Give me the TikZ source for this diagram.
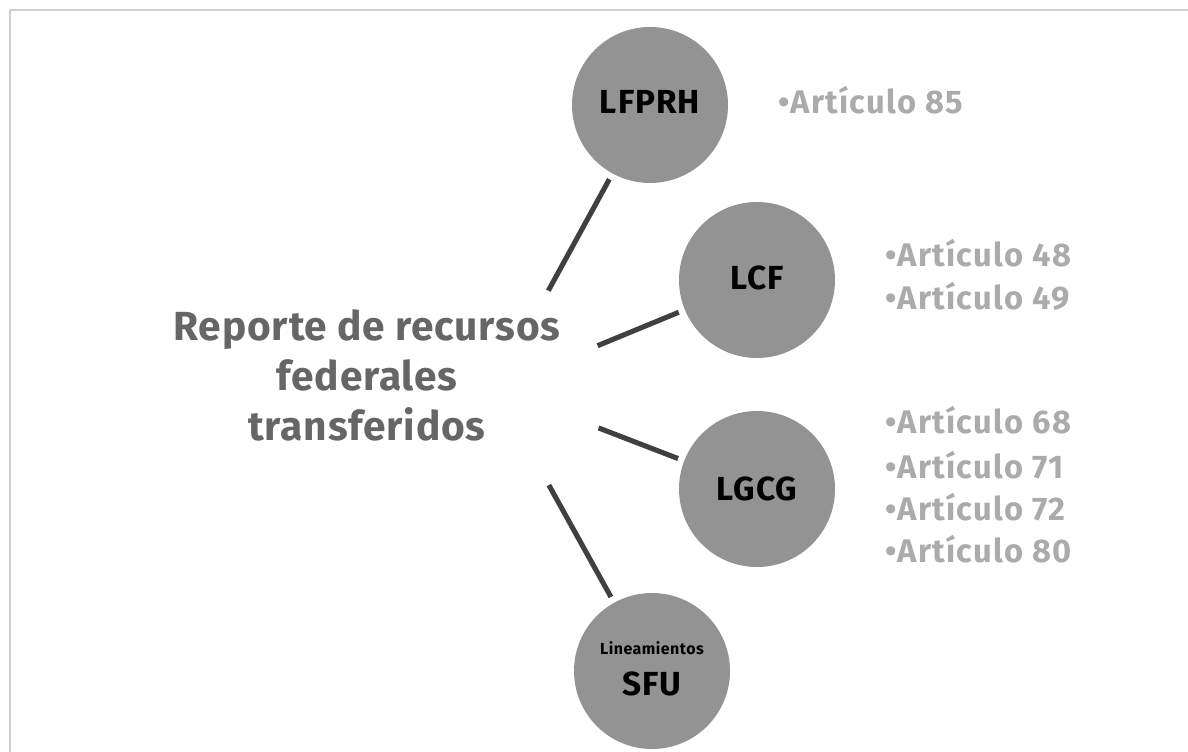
\documentclass[tikz,border=0pt]{standalone}
\usepackage{fontspec}
\setmainfont{Fira Sans}
\newfontfamily\artfont[LetterSpace=4]{Fira Sans}
\newfontfamily\titlefont[LetterSpace=2]{Fira Sans}
\newfontfamily\lawfont[LetterSpace=3]{Fira Sans}
\definecolor{bubblegray}{HTML}{939393}
\definecolor{spokegray}{HTML}{404040}
\definecolor{titlegray}{HTML}{666666}
\definecolor{artgray}{HTML}{ABABAB}
\definecolor{framegray}{HTML}{D0D0D0}
\begin{document}
\begin{tikzpicture}[x=0.75pt,y=-0.75pt,
  bubble/.style={circle, fill=bubblegray, draw=none, minimum size=117pt, inner sep=0pt, outer sep=0pt},
  hubstyle/.style={circle, draw=none, minimum size=166.5pt, inner sep=0pt, outer sep=0pt},
  lawlabel/.style={anchor=base, inner sep=0pt, text=black, font=\lawfont\bfseries\fontsize{25}{30}\selectfont},
  smalllabel/.style={anchor=base, inner sep=0pt, text=black, font=\lawfont\bfseries\fontsize{12}{14}\selectfont},
  titleline/.style={anchor=base, inner sep=0pt, text=titlegray, font=\titlefont\bfseries\fontsize{30.5}{37}\selectfont},
  article/.style={anchor=base west, inner sep=0pt, text=artgray, font=\artfont\bfseries\fontsize{24.5}{30}\selectfont},
  spoke/.style={draw=spokegray, line width=3.8pt, shorten >=5pt}
]
\useasboundingbox (0,0) rectangle (1188,752);
\fill[white] (0,0) rectangle (1188,752);
% frame (cropped)
\draw[framegray, line width=1.6pt] (10,760) -- (10,10) -- (1200,10);

% hub
\node[hubstyle] (hub) at (495,388) {};

% bubbles
\node[bubble] (lfprh) at (650,105) {};
\node[bubble] (lcf) at (757,280) {};
\node[bubble] (lgcg) at (757,489) {};
\node[bubble] (sfu) at (652,671) {};

\node[lawlabel] (lfprhT) at (650,114) {LFPRH};
\node[lawlabel] (lcfT) at (757,290) {LCF};
\node[lawlabel] (lgcgT) at (757,500) {LGCG};
\node[smalllabel] (sfuS) at (652,654) {Lineamientos};
\node[lawlabel] (sfuT) at (652,695) {SFU};

% spokes
\draw[spoke] (hub) -- (lfprh);
\draw[spoke] (hub) -- (lcf);
\draw[spoke] (hub) -- (lgcg);
\draw[spoke] (hub) -- (sfu);

% title
\node[titleline] (t1) at (367,340) {Reporte de recursos};
\node[titleline] (t2) at (367,390) {federales};
\node[titleline] (t3) at (367,440) {transferidos};

% articles
\node[article] (a85) at (778,114) {•Artículo 85};
\node[article] (a48) at (885,267) {•Artículo 48};
\node[article] (a49) at (885,310) {•Artículo 49};
\node[article] (a68) at (885,433) {•Artículo 68};
\node[article] (a71) at (885,478) {•Artículo 71};
\node[article] (a72) at (885,520) {•Artículo 72};
\node[article] (a80) at (885,562) {•Artículo 80};
\end{tikzpicture}
\end{document}
